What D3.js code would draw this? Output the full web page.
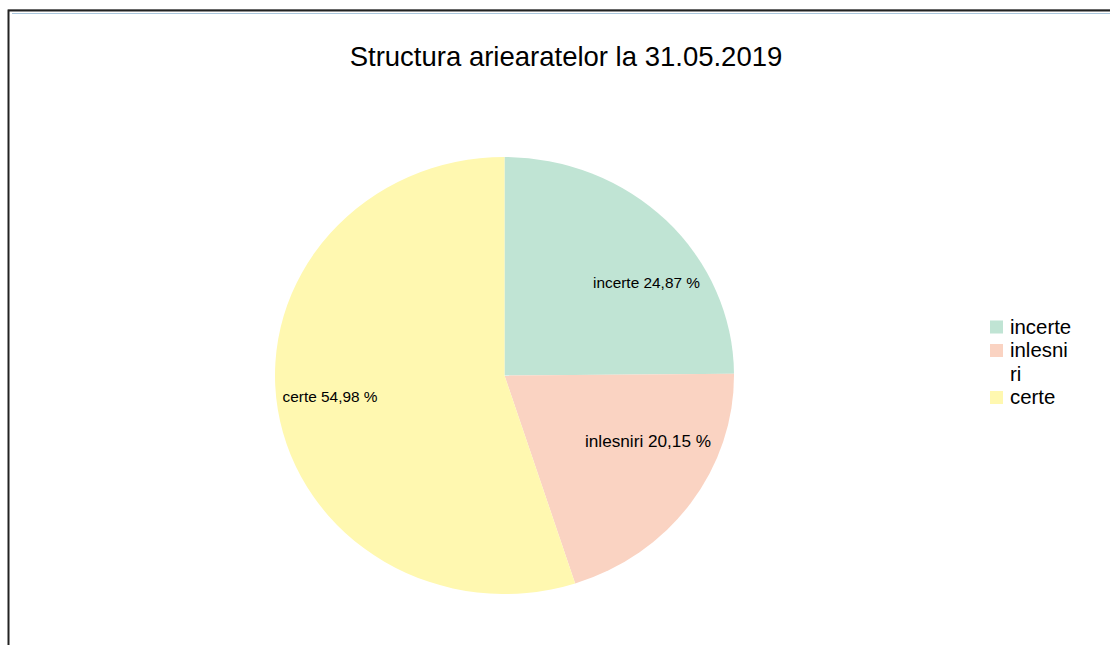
<!DOCTYPE html>
<html>
<head>
<meta charset="utf-8">
<script src="https://cdn.jsdelivr.net/npm/d3@7"></script>
<style>
  html, body { margin: 0; padding: 0; background: #fff; }
  svg { display: block; font-family: "Liberation Sans", Arial, sans-serif; }
</style>
</head>
<body>
<svg id="chart" width="1110" height="645"></svg>
<script>
const title = "Structura ariearatelor la 31.05.2019";
const categories = ["incerte", "inlesniri", "certe"];
const values = [24.87, 20.15, 54.98];
const valueLabels = ["24,87 %", "20,15 %", "54,98 %"];
const legendLines = [["incerte"], ["inlesni", "ri"], ["certe"]];
const colors = ["#C0E4D4", "#FAD3C2", "#FFF8B0"];

const svg = d3.select("#chart");

// frame
svg.append("line").attr("x1", 8).attr("y1", 9.5).attr("x2", 1110).attr("y2", 9.5)
  .attr("stroke", "#b0b0b0").attr("stroke-width", 1);
svg.append("path").attr("d", "M8.5,650 V10.5 H1115")
  .attr("fill", "none").attr("stroke", "#222").attr("stroke-width", 2);
svg.append("line").attr("x1", 12).attr("y1", 13.5).attr("x2", 1110).attr("y2", 13.5)
  .attr("stroke", "#a9c6dc").attr("stroke-width", 1);

svg.append("text").attr("x", 566).attr("y", 66).attr("text-anchor", "middle")
  .attr("font-size", 27.5).attr("fill", "#000").text(title);

const cx = 504.5, cy = 375.5, rx = 229.5, ry = 218.5;
const pie = d3.pie().sort(null).value(d => d);
const arcs = pie(values);
const arc = d3.arc().innerRadius(0).outerRadius(rx);

svg.append("g")
  .attr("transform", `translate(${cx},${cy}) scale(1,${ry / rx})`)
  .selectAll("path").data(arcs).join("path")
  .attr("d", arc).attr("fill", (d, i) => colors[i]);

// label anchor offsets from pie centre (middle of text baseline) and sizes
const labelOffsets = [[142, -87.5], [143.5, 71.5], [-174.5, 26.5]];
const labelSizes = [15.4, 17.2, 15.4];
svg.append("g").selectAll("text").data(arcs).join("text")
  .attr("x", (d, i) => cx + labelOffsets[i][0])
  .attr("y", (d, i) => cy + labelOffsets[i][1])
  .attr("text-anchor", "middle")
  .attr("font-size", (d, i) => labelSizes[i]).attr("fill", "#000")
  .text((d, i) => categories[i] + " " + valueLabels[i]);

// legend
const lg = svg.append("g");
let y = 333.5;
legendLines.forEach((lines, i) => {
  lg.append("rect").attr("x", 990).attr("y", y - 13).attr("width", 13).attr("height", 13)
    .attr("fill", colors[i]);
  lines.forEach((t, j) => {
    lg.append("text").attr("x", 1010).attr("y", y + j * 23.5)
      .attr("font-size", 20.4).attr("fill", "#000").text(t);
  });
  y += lines.length * 23.5;
});
</script>
</body>
</html>
